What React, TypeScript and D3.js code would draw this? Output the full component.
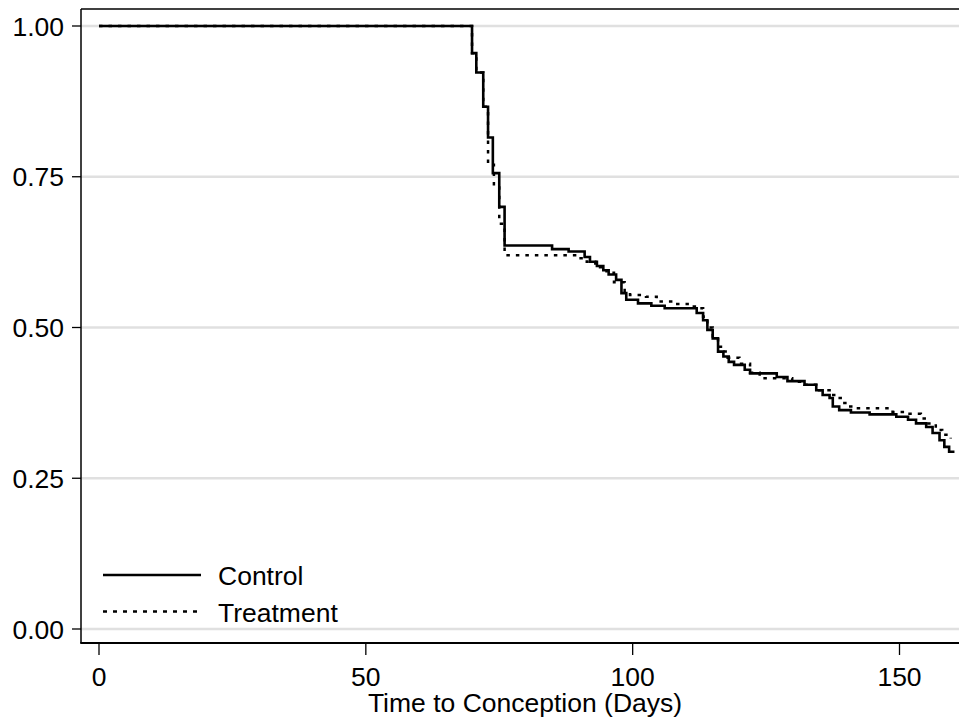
import React from "react";
import * as d3 from "d3";

const controlDays = [0, 69.9, 70.7, 72.0, 72.9, 73.8, 75.0, 76.0, 84.9, 88.0, 91.0, 92.0, 93.3, 94.5, 95.5, 96.9, 97.9, 98.8, 101.0, 103.5, 106.0, 112.0, 113.2, 114.0, 115.0, 116.0, 117.0, 118.0, 119.0, 121.0, 122.0, 127.0, 129.0, 132.2, 134.4, 135.6, 136.9, 137.5, 138.7, 140.9, 144.4, 149.4, 151.6, 153.1, 155.0, 156.2, 157.5, 158.4, 159.3, 160.3];
const controlSurv = [1.0, 0.955, 0.923, 0.866, 0.815, 0.756, 0.7, 0.636, 0.63, 0.626, 0.617, 0.609, 0.602, 0.595, 0.588, 0.579, 0.557, 0.546, 0.54, 0.536, 0.532, 0.524, 0.512, 0.496, 0.482, 0.46, 0.452, 0.443, 0.438, 0.43, 0.424, 0.418, 0.411, 0.405, 0.396, 0.388, 0.383, 0.369, 0.363, 0.359, 0.356, 0.352, 0.347, 0.341, 0.335, 0.325, 0.313, 0.302, 0.294, 0.294];

const treatmentDays = [0, 69.9, 70.7, 72.0, 72.9, 74.0, 75.0, 76.0, 89.7, 91.4, 93.0, 95.1, 96.5, 98.5, 99.5, 102.5, 104.5, 108.0, 110.3, 112.0, 113.2, 114.0, 115.0, 116.0, 116.8, 117.8, 120.0, 122.0, 123.8, 129.9, 132.2, 134.4, 136.9, 138.4, 139.3, 140.2, 141.9, 148.7, 151.2, 154.0, 155.0, 156.8, 158.0, 159.6];
const treatmentSurv = [1.0, 0.955, 0.923, 0.866, 0.77, 0.735, 0.672, 0.62, 0.615, 0.609, 0.6, 0.591, 0.575, 0.559, 0.554, 0.551, 0.543, 0.539, 0.535, 0.532, 0.518, 0.5, 0.485, 0.468, 0.46, 0.45, 0.44, 0.425, 0.416, 0.41, 0.405, 0.396, 0.388, 0.383, 0.375, 0.369, 0.366, 0.36, 0.357, 0.349, 0.341, 0.33, 0.322, 0.316];

const yTicks = [0, 0.25, 0.5, 0.75, 1.0];
const xTicks = [0, 50, 100, 150];
const seriesNames = ["Control", "Treatment"];
const xTitle = "Time to Conception (Days)";

const W = 959;
const H = 721;
const plotLeft = 81;
const plotRight = 969;
const plotTop = 9;
const plotBottom = 643;
const FONT = "'Liberation Sans', Arial, Helvetica, sans-serif";
const FS = 26.5;

export default function App() {
  const x = d3.scaleLinear().domain([0, 150]).range([99, 899.5]);
  const y = d3.scaleLinear().domain([0, 1]).range([629, 26]);
  const line = d3
    .line<[number, number]>()
    .x((d) => x(d[0]))
    .y((d) => y(d[1]))
    .curve(d3.curveStepAfter);
  const ctrl = controlDays.map((d, i) => [d, controlSurv[i]] as [number, number]);
  const trt = treatmentDays.map((d, i) => [d, treatmentSurv[i]] as [number, number]);

  return (
    <svg
      width={W}
      height={H}
      style={{ position: "absolute", left: 0, top: 0, background: "#fff" }}
      fontFamily={FONT}
    >
      <rect x={0} y={0} width={W} height={H} fill="#fff" />
      {yTicks.map((t) => (
        <line key={"g" + t} x1={plotLeft} x2={plotRight} y1={y(t)} y2={y(t)} stroke="#e0e0e0" strokeWidth={2.5} />
      ))}
      <line x1={plotLeft} x2={plotRight} y1={plotTop} y2={plotTop} stroke="#000" strokeWidth={1.5} />
      <line x1={plotLeft} x2={plotLeft} y1={plotTop} y2={plotBottom} stroke="#000" strokeWidth={1.5} />
      <line x1={plotLeft - 0.75} x2={plotRight} y1={plotBottom} y2={plotBottom} stroke="#000" strokeWidth={2.2} />
      {yTicks.map((t) => (
        <g key={"y" + t}>
          <line x1={plotLeft - 9} x2={plotLeft} y1={y(t)} y2={y(t)} stroke="#000" strokeWidth={1.3} />
          <text x={64} y={y(t) + 9.5} textAnchor="end" fontSize={FS} fill="#000">
            {d3.format(".2f")(t)}
          </text>
        </g>
      ))}
      {xTicks.map((t) => (
        <g key={"x" + t}>
          <line x1={x(t)} x2={x(t)} y1={plotBottom} y2={plotBottom + 12} stroke="#000" strokeWidth={1.3} />
          <text x={x(t)} y={686} textAnchor="middle" fontSize={FS} fill="#000">
            {t}
          </text>
        </g>
      ))}
      <text x={(plotLeft + plotRight) / 2} y={712} textAnchor="middle" fontSize={FS} fill="#000">
        {xTitle}
      </text>
      <path d={line(trt) || ""} fill="none" stroke="#000" strokeWidth={2.5} strokeDasharray="3.5,6" />
      <path d={line(ctrl) || ""} fill="none" stroke="#000" strokeWidth={2.6} />
      <line x1={103} x2={201} y1={575} y2={575} stroke="#000" strokeWidth={2.6} />
      <text x={218} y={585} fontSize={FS} fill="#000">{seriesNames[0]}</text>
      <line x1={103} x2={201} y1={611.5} y2={611.5} stroke="#000" strokeWidth={2.5} strokeDasharray="4,6" />
      <text x={218} y={622} fontSize={FS} fill="#000">{seriesNames[1]}</text>
    </svg>
  );
}
